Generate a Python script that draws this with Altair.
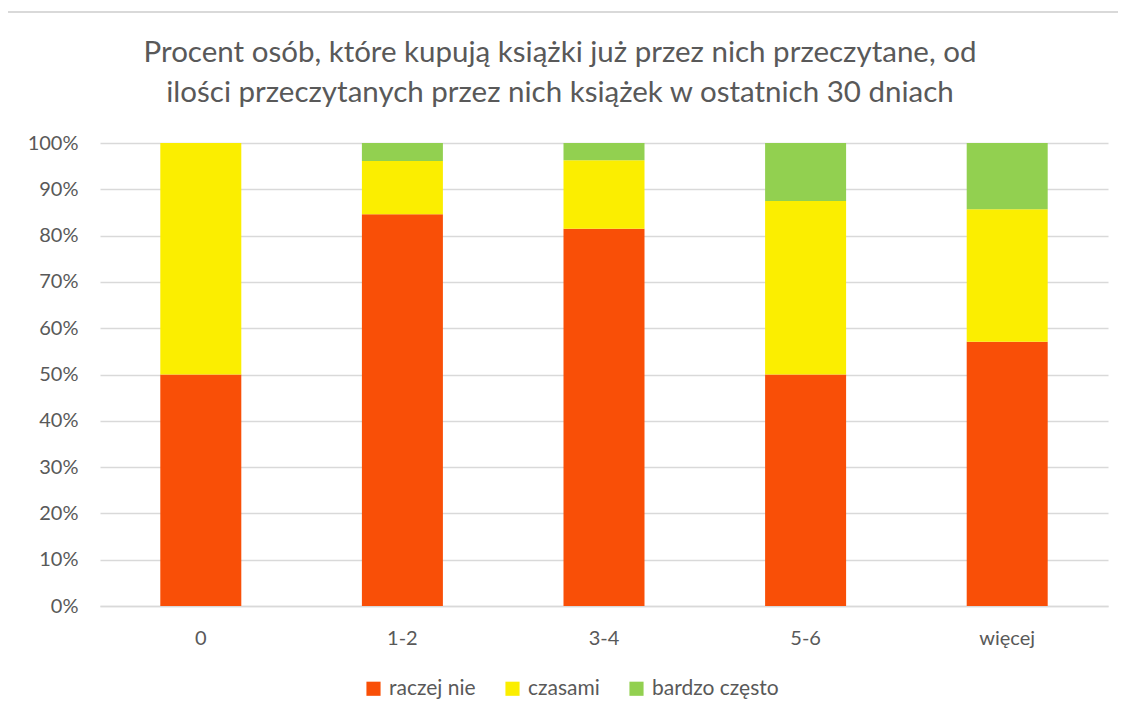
import altair as alt
import pandas as pd

categories = ["0", "1-2", "3-4", "5-6", "więcej"]
series = ["raczej nie", "czasami", "bardzo często"]
raczej_nie = [0.50, 0.846, 0.815, 0.50, 0.571]
czasami = [0.50, 0.115, 0.148, 0.375, 0.286]
bardzo_czesto = [0.0, 0.039, 0.037, 0.125, 0.143]
colors = ["#F94F07", "#FBEE00", "#92D050"]

rows = []
for i, c in enumerate(categories):
    for j, (s, vals) in enumerate(zip(series, [raczej_nie, czasami, bardzo_czesto])):
        rows.append({"kat": c, "seria": s, "wartosc": vals[i], "kolejnosc": j})
df = pd.DataFrame(rows)

FONT = "Lato"
GREY = "#595959"

bars = alt.Chart(df).mark_bar(size=81).encode(
    x=alt.X("kat:N", sort=categories, title=None,
            axis=alt.Axis(labelAngle=0, labelFontSize=20, labelColor=GREY, labelFont=FONT,
                          ticks=False, domainColor="#D9D9D9", domainWidth=1.5, labelPadding=22)),
    y=alt.Y("wartosc:Q", stack="zero", title=None,
            scale=alt.Scale(domain=[0, 1], nice=False),
            axis=alt.Axis(format=".0%", values=[i / 10 for i in range(11)], labelFontSize=20,
                          labelColor=GREY, labelFont=FONT, ticks=False, domain=False,
                          gridColor="#D9D9D9", gridWidth=1.5, labelPadding=22)),
    color=alt.Color("seria:N", sort=series, scale=alt.Scale(domain=series, range=colors),
                    legend=alt.Legend(orient="none", legendX=263, legendY=535, direction="horizontal",
                                      title=None, symbolType="square", symbolSize=200,
                                      symbolStrokeWidth=0, labelFontSize=21, labelColor=GREY,
                                      labelFont=FONT, columnPadding=26, labelOffset=5)),
    order=alt.Order("kolejnosc:Q"),
)

frame = pd.DataFrame({"a": [0]})
border_top = alt.Chart(frame).mark_rule(color="#D9D9D9", strokeWidth=2).encode(
    x=alt.value(-93), x2=alt.value(1100), y=alt.value(-131))
border_left = alt.Chart(frame).mark_rule(color="#D9D9D9", strokeWidth=2).encode(
    x=alt.value(-93), y=alt.value(-132), y2=alt.value(700))

chart = alt.layer(border_top, border_left, bars).properties(
    width=1008, height=463,
    padding={"left": 92, "top": 135, "right": 10, "bottom": 110},
    autosize=alt.AutoSizeParams(type="none"),
    title=alt.TitleParams(
        ["Procent osób, które kupują książki już przez nich przeczytane, od",
         "ilości przeczytanych przez nich książek w ostatnich 30 dniach"],
        fontSize=29.5, font=FONT, fontWeight="normal", color=GREY, anchor="middle",
        dx=-44, offset=0, dy=121, lineHeight=40, baseline="alphabetic",
    ),
).configure_view(stroke=None)

chart.save("out.html", embed_options={"renderer": "svg", "actions": False})
